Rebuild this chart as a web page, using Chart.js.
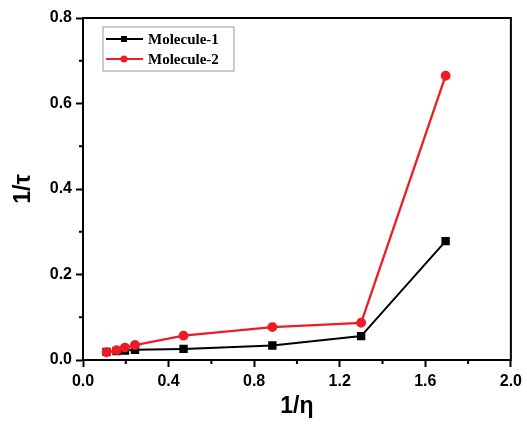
<!DOCTYPE html>
<html>
<head>
<meta charset="utf-8">
<script src="https://cdn.jsdelivr.net/npm/chart.js@4/dist/chart.umd.min.js"></script>
<style>
  html, body { margin: 0; padding: 0; background: #fff; }
  #wrap { width: 527px; height: 432px; }
</style>
</head>
<body>
<div id="wrap"><canvas id="chart" width="527" height="432"></canvas></div>
<script>
// ======================================================
// Data
// ======================================================

const invEta = [0.11, 0.157, 0.196, 0.243, 0.47, 0.885, 1.30, 1.695];

const molecule1 = [0.019, 0.021, 0.022, 0.024, 0.026, 0.034, 0.056, 0.278];

const molecule2 = [0.018, 0.023, 0.029, 0.035, 0.057, 0.077, 0.087, 0.665];

const seriesNames = ["Molecule-1", "Molecule-2"];

const seriesColors = ["#000000", "#ee1c25"];

// ======================================================
// Frame, minor ticks and legend
// ======================================================

const framePlugin = {
    id: "frame",
    afterDraw(chart) {
        const c = chart.ctx;
        const a = chart.chartArea;
        const xs = chart.scales.x;
        const ys = chart.scales.y;

        c.save();
        c.strokeStyle = "#000";
        c.lineWidth = 2;
        c.strokeRect(a.left, a.top, a.right - a.left, a.bottom - a.top);

        // minor ticks
        c.beginPath();
        for (let v = 0.2; v < 2.0; v += 0.4) {
            let px = xs.getPixelForValue(v);
            c.moveTo(px, a.bottom);
            c.lineTo(px, a.bottom + 4);
        }
        for (let v = 0.1; v < 0.8; v += 0.2) {
            let py = ys.getPixelForValue(v);
            c.moveTo(a.left, py);
            c.lineTo(a.left - 4, py);
        }
        c.stroke();

        // legend
        const lx = 103, ly = 27, lw = 131, lh = 44;
        c.strokeStyle = "#999";
        c.lineWidth = 1;
        c.strokeRect(lx, ly, lw, lh);

        c.font = "bold 15px 'Liberation Serif', serif";
        c.textBaseline = "middle";
        for (let i = 0; i < seriesNames.length; i++) {
            let yy = ly + 12 + i * 20;
            c.strokeStyle = seriesColors[i];
            c.fillStyle = seriesColors[i];
            c.lineWidth = 2;
            c.beginPath();
            c.moveTo(lx + 3, yy);
            c.lineTo(lx + 40, yy);
            c.stroke();
            if (i === 0) {
                c.fillRect(lx + 18, yy - 3, 6, 6);
            } else {
                c.beginPath();
                c.arc(lx + 21, yy, 3.5, 0, Math.PI * 2);
                c.fill();
            }
            c.fillStyle = "#000";
            c.fillText(seriesNames[i], lx + 45, yy + 1);
        }
        c.restore();
    }
};

// ======================================================
// Chart
// ======================================================

function toPoints(ys) {
    return invEta.map((x, i) => ({ x: x, y: ys[i] }));
}

const tickFont = { family: "'Liberation Sans', Arial, sans-serif", size: 16, weight: "bold" };

const titleFont = { family: "'Liberation Sans', Arial, sans-serif", size: 23, weight: "bold" };

new Chart(document.getElementById("chart"), {

    type: "line",

    data: {
        datasets: [
            {
                label: seriesNames[0],
                data: toPoints(molecule1),
                borderColor: seriesColors[0],
                backgroundColor: seriesColors[0],
                borderWidth: 2,
                pointStyle: "rect",
                pointRadius: 4.5,
                order: 2,
                tension: 0
            },
            {
                label: seriesNames[1],
                data: toPoints(molecule2),
                borderColor: seriesColors[1],
                backgroundColor: seriesColors[1],
                borderWidth: 2.3,
                pointStyle: "circle",
                pointRadius: 3.8,
                order: 1,
                tension: 0
            }
        ]
    },

    options: {
        responsive: false,
        animation: false,
        layout: { padding: { top: 18, right: 16, left: 0, bottom: 0 } },
        plugins: {
            legend: { display: false },
            tooltip: { enabled: false }
        },
        scales: {
            x: {
                type: "linear",
                min: 0,
                max: 2.0,
                ticks: {
                    stepSize: 0.4,
                    color: "#000",
                    font: tickFont,
                    padding: 5,
                    callback: v => v.toFixed(1)
                },
                grid: { drawOnChartArea: false, tickLength: 7, tickColor: "#000", tickWidth: 2 },
                border: { color: "#000", width: 2 },
                title: {
                    display: true,
                    text: "1/η",
                    color: "#000",
                    font: titleFont,
                    padding: { top: 4, bottom: 12 }
                },
                afterFit: s => { s.height = 72; }
            },
            y: {
                min: 0,
                max: 0.8,
                ticks: {
                    stepSize: 0.2,
                    color: "#000",
                    font: tickFont,
                    padding: 4,
                    callback: v => v.toFixed(1)
                },
                grid: { drawOnChartArea: false, tickLength: 7, tickColor: "#000", tickWidth: 2 },
                border: { color: "#000", width: 2 },
                title: {
                    display: true,
                    text: "1/τ",
                    color: "#000",
                    font: titleFont,
                    padding: { top: 10, bottom: 0 }
                },
                afterFit: s => { s.width = 83; }
            }
        }
    },

    plugins: [framePlugin]

});
</script>
</body>
</html>
